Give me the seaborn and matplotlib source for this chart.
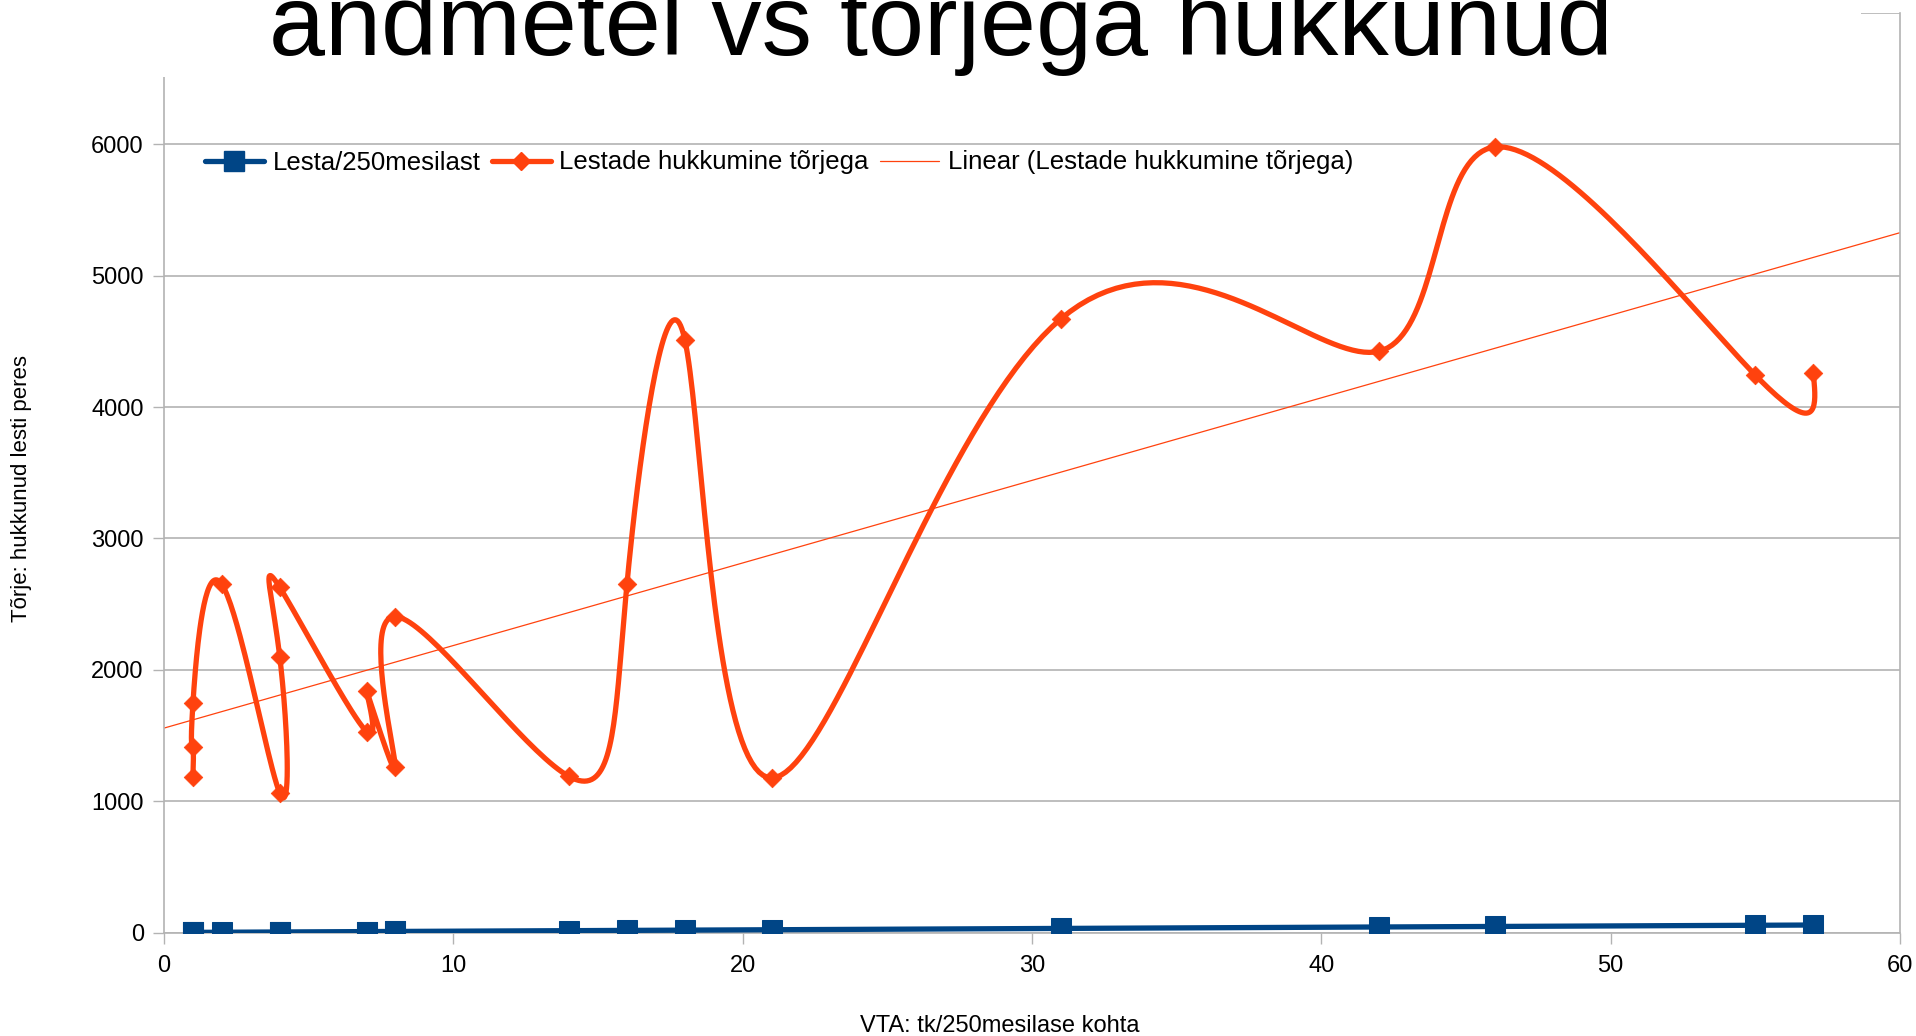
import numpy as np
import matplotlib
matplotlib.use("Agg")
import matplotlib.pyplot as plt
from matplotlib.lines import Line2D
from matplotlib.patches import Rectangle
import seaborn as sns

# -------------------------------
# Data
# -------------------------------
vta = [1, 1, 1, 2, 4, 4, 4, 7, 7, 8, 8, 14, 16, 18, 21, 31, 42, 46, 55, 57]
lesta_250 = [1, 1, 1, 2, 4, 4, 4, 7, 7, 8, 8, 14, 16, 18, 21, 31, 42, 46, 55, 57]
hukkunud = [1186, 1414, 1744, 2650, 1062, 2100, 2628, 1530, 1842, 1262,
            2405, 1188, 2650, 4513, 1177, 4672, 4425, 5980, 4243, 4262]

x_ticks = [0, 10, 20, 30, 40, 50, 60]
y_ticks = [0, 1000, 2000, 3000, 4000, 5000, 6000, 7000]

labels = ["Lesta/250mesilast", "Lestade hukkumine tõrjega",
          "Linear (Lestade hukkumine tõrjega)"]

BLUE = "#004586"
ORANGE = "#ff420e"
GRID = "#b3b3b3"


def natural_spline(v, per_seg=40):
    # parametric natural cubic spline with uniform parameter (office "smooth line")
    v = np.asarray(v, float)
    n = len(v)
    A = np.zeros((n, n))
    r = np.zeros(n)
    A[0, 0] = A[-1, -1] = 1
    for i in range(1, n - 1):
        A[i, i - 1], A[i, i], A[i, i + 1] = 1, 4, 1
        r[i] = 6 * (v[i + 1] - 2 * v[i] + v[i - 1])
    m = np.linalg.solve(A, r)
    s = np.linspace(0, 1, per_seg, endpoint=False)
    out = []
    for i in range(n - 1):
        seg = ((1 - s) * v[i] + s * v[i + 1]
               + ((1 - s) ** 3 - (1 - s)) * m[i] / 6
               + (s ** 3 - s) * m[i + 1] / 6)
        out.append(seg)
    out.append([v[-1]])
    return np.concatenate(out)


curve_x = natural_spline(vta)
curve_y = natural_spline(hukkunud)

# -------------------------------
# Plot
# -------------------------------
sns.set_style("white")
plt.rcParams["font.family"] = ["Liberation Sans", "DejaVu Sans"]
plt.rcParams["text.color"] = "black"

W, H = 1916, 1036
fig = plt.figure(figsize=(W / 100, H / 100), dpi=100)
ax = fig.add_axes([164 / W, 1 - 932.5 / H, 1736 / W, 919.5 / H])
ax.set_xlim(0, 60)
ax.set_ylim(0, 7000)

# blue series
sns.lineplot(x=vta, y=lesta_250, sort=False, estimator=None, color=BLUE,
             lw=3.8, marker="s", markersize=14, markeredgecolor=BLUE,
             ax=ax, zorder=3)

# orange smoothed series + markers
sns.lineplot(x=curve_x, y=curve_y, sort=False, estimator=None,
             color=ORANGE, lw=3.8, ax=ax, zorder=3)
sns.scatterplot(x=vta, y=hukkunud, marker="D", s=90, color=ORANGE,
                edgecolor=ORANGE, linewidth=0.5, ax=ax, zorder=4)

# linear trend line
sns.regplot(x=vta, y=hukkunud, scatter=False, ci=None, truncate=False,
            color=ORANGE, line_kws=dict(lw=0.9, zorder=2), ax=ax)

ax.set_xlim(0, 60)
ax.set_ylim(0, 7000)
ax.set_xticks(x_ticks)
ax.set_yticks(y_ticks)
ax.set_xlabel("")
ax.set_ylabel("")
ax.yaxis.grid(True, color=GRID, lw=1.2)
ax.xaxis.grid(False)
ax.tick_params(axis="both", direction="out", length=8, width=1,
               color=GRID, labelsize=17, labelcolor="black")
ax.tick_params(axis="x", pad=8)
ax.tick_params(axis="y", pad=6.5)
ax.tick_params(bottom=True, left=True)
for side in ["left", "bottom", "right"]:
    ax.spines[side].set_color(GRID)
    ax.spines[side].set_linewidth(1.2)
ax.spines["top"].set_visible(False)

handles = [
    Line2D([], [], color=BLUE, lw=3.8, marker="s", markersize=14),
    Line2D([], [], color=ORANGE, lw=3.8, marker="D", markersize=9.2),
    Line2D([], [], color=ORANGE, lw=0.9),
]
leg = ax.legend(handles, labels, loc="center left",
                bbox_to_anchor=((192 - 164) / 1736, (932.5 - 162.5) / 919.5),
                ncol=3, frameon=False, fontsize=18.5, borderpad=0,
                handlelength=2.3, handletextpad=0.33, columnspacing=0.45)
for t in leg.get_texts():
    t.set_color("black")

# axis titles
fig.text(1000 / W, 1 - 1026 / H, "VTA: tk/250mesilase kohta",
         ha="center", va="center", fontsize=17, color="black")
fig.text(22 / W, 1 - 488 / H, "Tõrje: hukkunud lesti peres",
         ha="center", va="center", rotation=90, fontsize=16, color="black")

# title box (white background hides the top of the plot area)
fig.add_artist(Rectangle((0, 1 - 77 / H), 1861 / W, 77 / H,
                         transform=fig.transFigure, facecolor="white",
                         edgecolor="none", zorder=5))
fig.text(941 / W, 1 - 55 / H, "andmetel vs tõrjega hukkunud",
         ha="center", va="baseline", fontsize=72.5, color="black", zorder=10)

fig.savefig("out.png", dpi=100)
